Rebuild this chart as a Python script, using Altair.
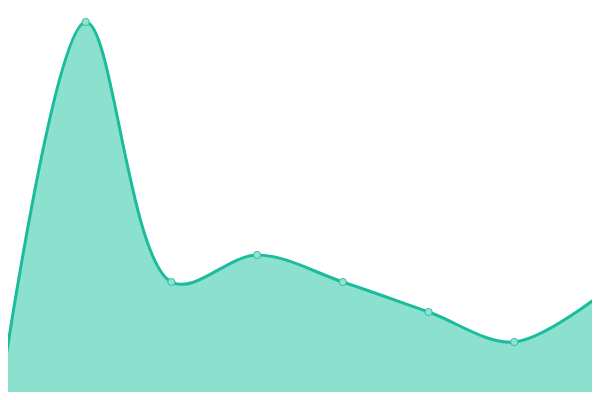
import altair as alt
import pandas as pd

idx = [0, 1, 2, 3, 4, 5, 6, 7]
values = [3, 378, 118, 145, 118, 88, 58, 105]

df = pd.DataFrame({"i": idx, "v": values})

step = 600 / 7
x_enc = alt.X("i:Q", axis=None, scale=alt.Scale(domain=[8 / step, 592 / step], nice=False, zero=False))
y_enc = alt.Y("v:Q", axis=None, scale=alt.Scale(domain=[8, 392], nice=False, zero=False))

area = alt.Chart(df).mark_area(
    interpolate="catmull-rom",
    color="#8be0ce",
    opacity=1,
    line={"color": "#1abc9c", "strokeWidth": 3},
    clip=True,
).encode(x=x_enc, y=y_enc)

pts = alt.Chart(df).mark_point(
    filled=True,
    fill="#93e2d2",
    stroke="#2ebfa2",
    strokeWidth=1,
    size=52,
    opacity=1,
    clip=True,
).encode(x=x_enc, y=y_enc)

chart = (area + pts).properties(width=584, height=384, padding=0).configure_view(strokeWidth=0)

chart.save("out.html", embed_options={"renderer": "svg", "actions": False})
